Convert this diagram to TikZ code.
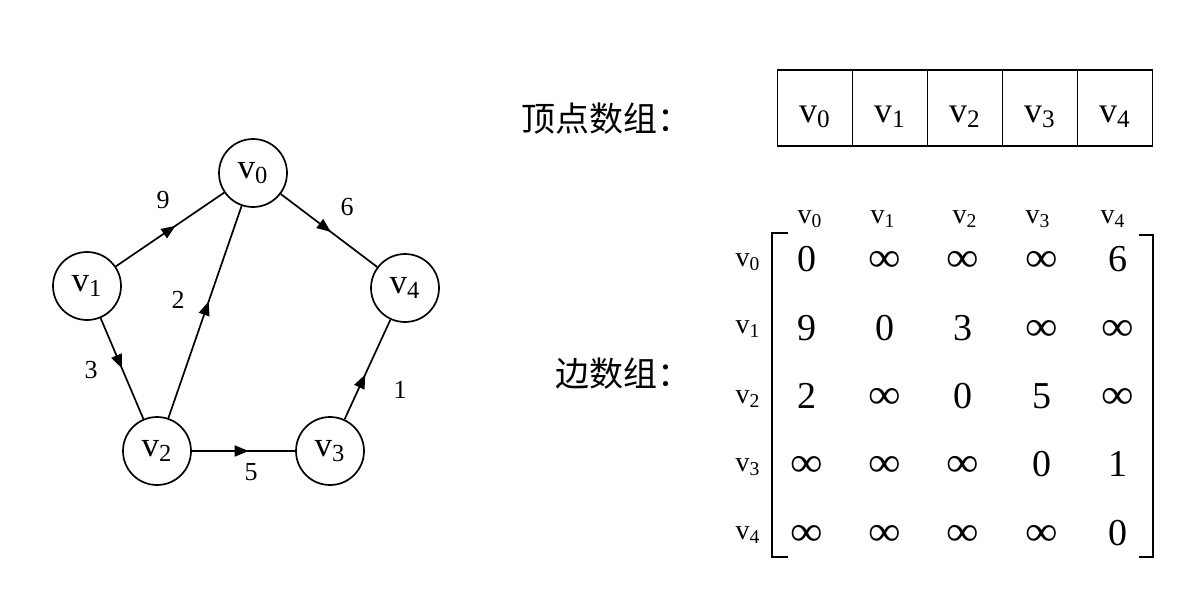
\documentclass[tikz,border=0pt]{standalone}
\usepackage{fontspec}
\setmainfont{Liberation Serif}
\newfontfamily\cjk{Noto Sans CJK SC}
\usetikzlibrary{arrows.meta,decorations.markings}
\newcommand{\vv}[1]{v\textsubscript{#1}}
\newcommand{\myinf}{\scalebox{1.2}[1.1]{∞}}
\tikzset{
 vert/.style={circle,draw,line width=0.85pt,minimum size=34pt,inner sep=0pt,font=\fontsize{17.5}{20}\selectfont},
 dedge/.style={line width=0.85pt,postaction={decorate},decoration={markings,mark=at position #1 with {\arrow{Triangle[length=7pt,width=5.5pt]}}}},
 dedge/.default=0.55,
 wlab/.style={font=\fontsize{13}{15}\selectfont,inner sep=0pt},
 cell/.style={draw,line width=0.85pt,minimum width=37.6pt,minimum height=38pt,inner sep=0pt,text height=14pt,text depth=0pt,font=\fontsize{18}{20}\selectfont},
 hdr/.style={font=\fontsize{14}{16}\selectfont,inner sep=0pt},
 ent/.style={font=\fontsize{19}{22}\selectfont,inner sep=0pt,anchor=base},
 cjklab/.style={font=\cjk\fontsize{17}{18}\selectfont,inner sep=0pt},
 brk/.style={line width=1pt},
}
\begin{document}
\begin{tikzpicture}[x=0.5pt,y=-0.5pt]
\useasboundingbox (0,0) rectangle (1178,590);
% graph
\node[vert] (v0) at (253,173) {\vv{0}};
\node[vert] (v1) at (87,286) {\vv{1}};
\node[vert] (v4) at (405,288) {\vv{4}};
\node[vert] (v2) at (157,451) {\vv{2}};
\node[vert] (v3) at (330,451) {\vv{3}};
\draw[dedge] (v1) -- (v0);
\draw[dedge=0.52] (v0) -- (v4);
\draw[dedge=0.55] (v2) -- (v0);
\draw[dedge=0.5] (v1) -- (v2);
\draw[dedge=0.55] (v2) -- (v3);
\draw[dedge=0.45] (v3) -- (v4);
\node[wlab] (w9) at (163,200) {9};
\node[wlab] (w6) at (347,207) {6};
\node[wlab] (w2) at (178,300) {2};
\node[wlab] (w3) at (91,370) {3};
\node[wlab] (w5) at (251,472) {5};
\node[wlab] (w1) at (400,390) {1};
% vertex array
\node[cjklab] (tv) at (606,119) {顶点数组：};
\foreach \i/\x in {0/815,1/890,2/965,3/1040,4/1115}{
  \node[cell] (a\i) at (\x,108) {\vv{\i}};
}
% edge array
\node[cjklab] (te) at (623,374) {边数组：};
\foreach \i/\x in {0/810,1/883,2/965,3/1038,4/1113}{
  \node[hdr] (c\i) at (\x,219) {\vv{\i}};
}
\foreach \i/\y in {0/262,1/329,2/399,3/467,4/535}{
  \node[hdr] (r\i) at (748,\y) {\vv{\i}};
}
\draw[brk] (788,233) -- (772,233) -- (772,557) -- (788,557);
\draw[brk] (1139,235) -- (1153,235) -- (1153,557) -- (1139,557);
\foreach \r/\y/\list in {0/271/{0,\myinf,\myinf,\myinf,6},1/340/{9,0,3,\myinf,\myinf},2/408/{2,\myinf,0,5,\myinf},3/476/{\myinf,\myinf,\myinf,0,1},4/545/{\myinf,\myinf,\myinf,\myinf,0}}{
  \foreach \v [count=\c from 0] in \list {
    \pgfmathsetmacro{\xx}{{807,885,963,1042,1118}[\c]}
    \node[ent] (m\r\c) at (\xx,\y) {\v};
  }
}
\end{tikzpicture}
\end{document}
